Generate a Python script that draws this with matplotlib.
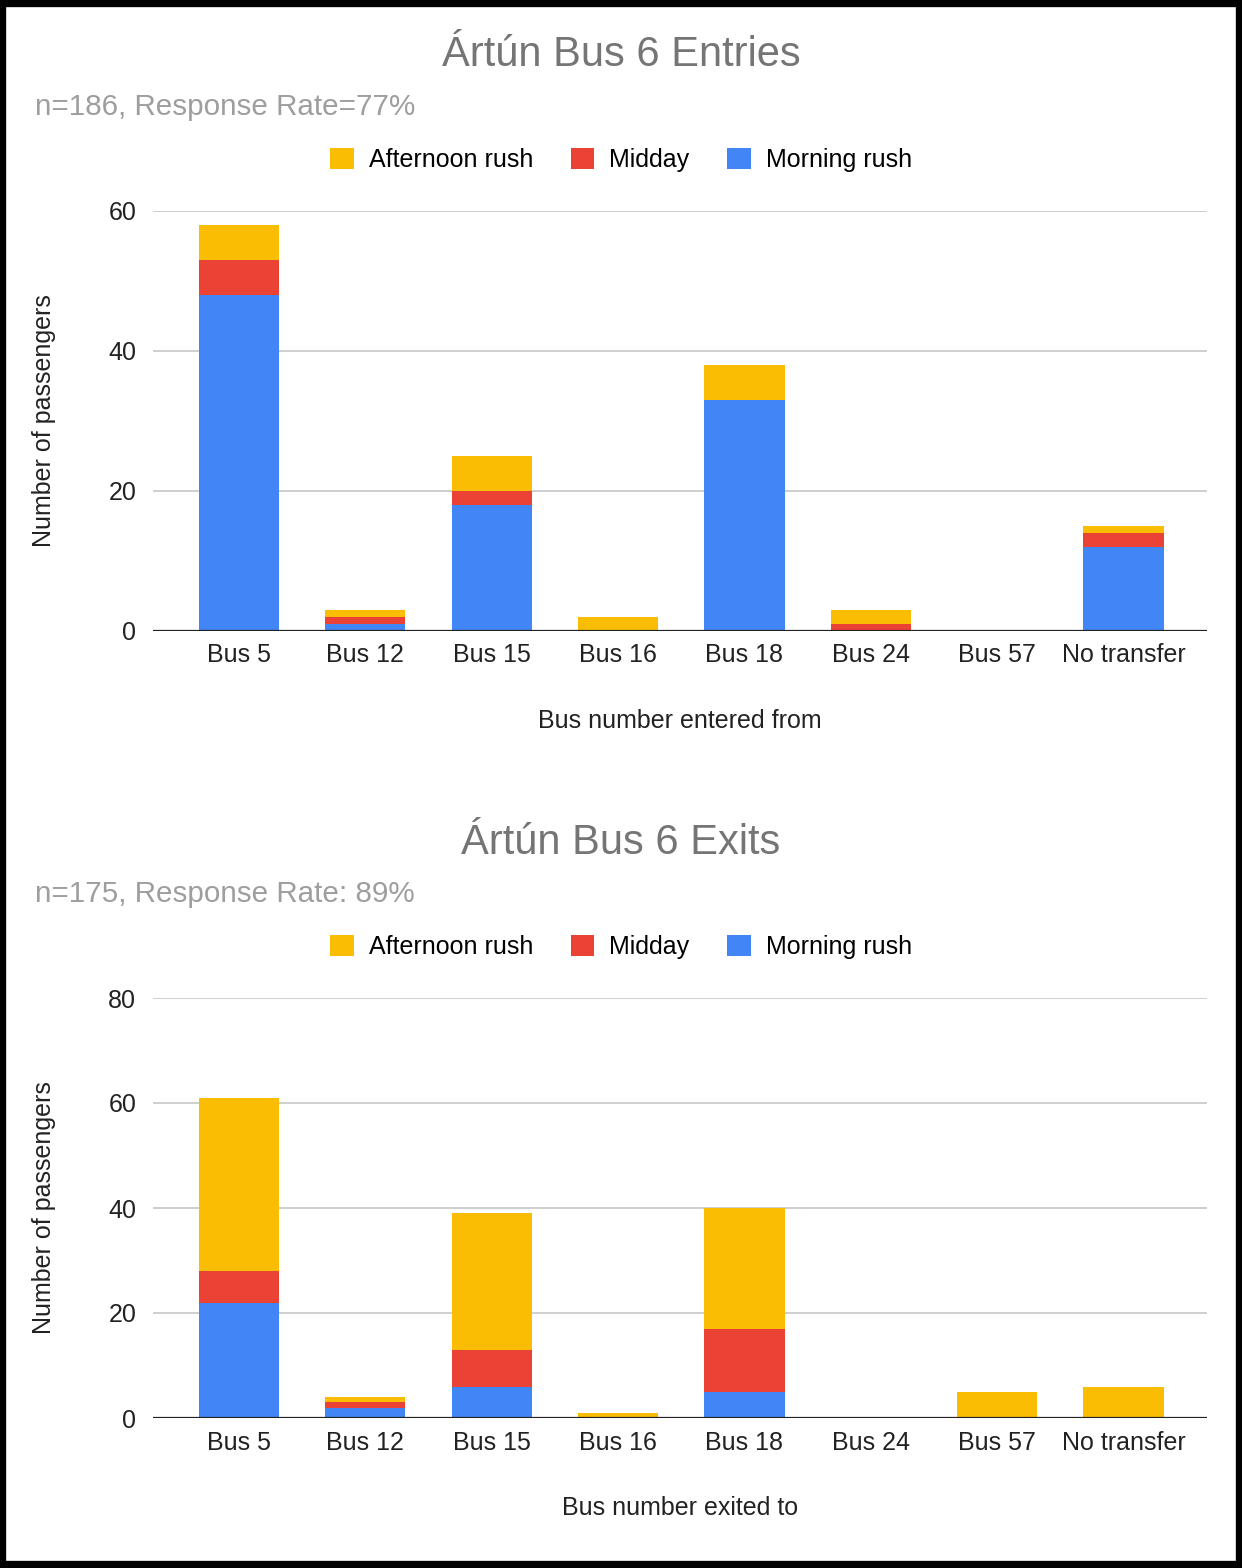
import numpy as np
import matplotlib
matplotlib.use("Agg")
import matplotlib.pyplot as plt
from matplotlib.patches import Rectangle, Patch

plt.rcParams['font.family'] = ['Liberation Sans', 'DejaVu Sans']

buses = ["Bus 5", "Bus 12", "Bus 15", "Bus 16", "Bus 18", "Bus 24", "Bus 57", "No transfer"]
series = ["Afternoon rush", "Midday", "Morning rush"]
colors = {"Morning rush": "#4285F4", "Midday": "#EA4335", "Afternoon rush": "#FBBC04"}

# entries onto bus 6 at Ártún
entry_morning = [48, 1, 18, 0, 33, 0, 0, 12]
entry_midday = [5, 1, 2, 0, 0, 1, 0, 2]
entry_afternoon = [5, 1, 5, 2, 5, 2, 0, 1]

# exits from bus 6 at Ártún
exit_morning = [22, 2, 6, 0, 5, 0, 0, 0]
exit_midday = [6, 1, 7, 0, 12, 0, 0, 0]
exit_afternoon = [33, 1, 26, 1, 23, 0, 5, 6]

W, H = 1242, 1568
fig = plt.figure(figsize=(W / 100, H / 100), dpi=100)


def fy(py):
    return 1 - py / H


def draw_panel(rect, morning, midday, afternoon, ymax, xlabel):
    ax = fig.add_axes(rect)
    x = np.arange(len(buses))
    m = np.array(morning)
    md = np.array(midday)
    a = np.array(afternoon)
    w = 0.635
    ax.bar(x, m, w, color=colors["Morning rush"], zorder=3)
    ax.bar(x, md, w, bottom=m, color=colors["Midday"], zorder=3)
    ax.bar(x, a, w, bottom=m + md, color=colors["Afternoon rush"], zorder=3)
    ax.set_xlim(-0.68, 7.66)
    ax.set_ylim(0, ymax)
    ax.set_yticks(np.arange(0, ymax + 1, 20))
    ax.grid(axis='y', color='#cccccc', linewidth=1.3, zorder=0)
    ax.axhline(0, color='#222222', linewidth=1.6, zorder=4)
    for s in ax.spines.values():
        s.set_visible(False)
    ax.set_xticks(x)
    ax.set_xticklabels(buses)
    ax.tick_params(axis='both', length=0, labelsize=18, colors='#222222')
    ax.tick_params(axis='x', pad=9)
    ax.tick_params(axis='y', pad=12)
    ax.set_xlabel(xlabel, fontsize=18, color='#222222', labelpad=30)
    ax.set_ylabel("Number of passengers", fontsize=18, color='#222222', labelpad=38)
    return ax


def header(title, sub, ty, sy, ly):
    fig.text(0.5, fy(ty), title, ha='center', va='center', fontsize=30, color='#757575')
    fig.text(35 / W, fy(sy), sub, ha='left', va='center', fontsize=21.3, color='#9e9e9e')
    handles = [Patch(facecolor=colors[s], edgecolor='none') for s in series]
    fig.legend(handles, series, loc='center', bbox_to_anchor=(0.5, fy(ly)), ncol=3,
               frameon=False, fontsize=18, handlelength=0.95, handleheight=0.95,
               handletextpad=0.6, columnspacing=1.5)


ax_w = (1207 - 153) / W
ax_h = (631 - 211) / H
draw_panel([153 / W, fy(631), ax_w, ax_h], entry_morning, entry_midday, entry_afternoon,
           60, "Bus number entered from")
header("Ártún Bus 6 Entries", "n=186, Response Rate=77%", 55, 107, 160)

draw_panel([153 / W, fy(1418), ax_w, ax_h], exit_morning, exit_midday, exit_afternoon,
           80, "Bus number exited to")
header("Ártún Bus 6 Exits", "n=175, Response Rate: 89%", 843, 894, 947)

# black frame around the whole figure
fig.patches.append(Rectangle((0.002, 0.002), 0.996, 0.996, transform=fig.transFigure,
                             fill=False, edgecolor='black', linewidth=6))

fig.savefig("out.png", dpi=100, facecolor='white')
